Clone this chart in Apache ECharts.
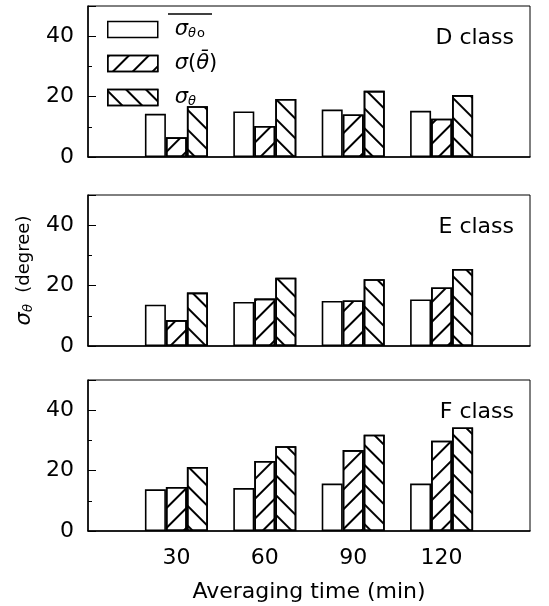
<!DOCTYPE html>
<html>
<head>
<meta charset="utf-8">
<script src="https://cdn.jsdelivr.net/npm/echarts@6/dist/echarts.min.js"></script>
<style>
  html, body { margin: 0; padding: 0; background: #fff; }
  #chart { width: 549px; height: 606px; }
</style>
</head>
<body>
<div id="chart"></div>
<script>
// Averaging times (min) on the x axis
const categories = [30, 60, 90, 120];
const xTickLabels = ['30', '60', '90', '120'];
const yTickLabels = [0, 20, 40];

// Stability class panels, top to bottom
const classes = ['D class', 'E class', 'F class'];

// Legend names of the three estimates
const seriesNames = ['σθo', 'σ(θ̄)', 'σθ'];

// D class
const dMean = [14.3, 15.1, 15.7, 15.3];
const dSdMean = [6.5, 10.3, 14.1, 12.7];
const dSigma = [16.8, 19.2, 21.9, 20.5];
// E class
const eMean = [13.7, 14.6, 14.9, 15.4];
const eSdMean = [8.6, 15.7, 15.1, 19.4];
const eSigma = [17.7, 22.6, 22.1, 25.5];
// F class
const fMean = [13.8, 14.2, 15.7, 15.7];
const fSdMean = [14.6, 23.2, 26.8, 29.9];
const fSigma = [21.2, 28.1, 31.9, 34.3];

const panelValues = [
  [dMean, dSdMean, dSigma],
  [eMean, eSdMean, eSigma],
  [fMean, fSdMean, fSigma]
];

const FONT = 'DejaVu Sans';
const panelTops = [6, 195, 380];
const panelHeight = 151;

const chart = echarts.init(document.getElementById('chart'), null, { renderer: 'canvas' });

// hatch fills: plain, "///" and "\\\"
const patterns = [
  null,
  { symbol: 'rect', symbolSize: 1, dashArrayX: [1, 0], dashArrayY: [2, 12], rotation: -Math.PI / 4, color: '#000' },
  { symbol: 'rect', symbolSize: 1, dashArrayX: [1, 0], dashArrayY: [2, 12], rotation: Math.PI / 4, color: '#000' }
];

const grids = [], xAxes = [], yAxes = [], series = [], titles = [];

panelValues.forEach((vals, p) => {
  grids.push({
    left: 88, right: 19, top: panelTops[p], height: panelHeight,
    show: true, borderColor: '#000', borderWidth: 1, backgroundColor: 'transparent'
  });
  const last = p === panelValues.length - 1;
  xAxes.push({
    type: 'value', gridIndex: p, min: 0, max: 150, interval: 30,
    axisLine: { show: true, onZero: false, lineStyle: { color: '#000', width: 1.5 } },
    axisTick: { show: false },
    splitLine: { show: false },
    axisLabel: {
      show: last, margin: 16, color: '#000', fontFamily: FONT, fontSize: 22,
      formatter: v => { const i = categories.indexOf(v); return i >= 0 ? xTickLabels[i] : ''; }
    },
    name: last ? 'Averaging time (min)' : '',
    nameLocation: 'middle', nameGap: 50,
    nameTextStyle: { color: '#000', fontFamily: FONT, fontSize: 22 }
  });
  // labelled axis with long ticks
  yAxes.push({
    type: 'value', gridIndex: p, min: 0, max: 50, interval: 20,
    axisLine: { show: true, onZero: false, lineStyle: { color: '#000', width: 1.5 } },
    axisTick: { show: true, inside: true, length: 8, lineStyle: { color: '#000', width: 1 } },
    splitLine: { show: false },
    axisLabel: {
      margin: 14, color: '#000', fontFamily: FONT, fontSize: 22,
      formatter: v => yTickLabels.indexOf(v) >= 0 ? String(v) : ''
    },
    name: p === 1 ? '{s|σ}{sub|θ}{t|  (degree)}' : '',
    nameLocation: 'middle', nameRotate: 90, nameGap: 52,
    nameTextStyle: {
      color: '#000', fontFamily: FONT, fontSize: 18,
      rich: {
        s: { fontFamily: FONT, fontSize: 21, fontStyle: 'italic', color: '#000' },
        sub: { fontFamily: FONT, fontSize: 13, fontStyle: 'italic', color: '#000', padding: [8, 0, 0, 0] },
        t: { fontFamily: FONT, fontSize: 18, color: '#000' }
      }
    }
  });
  // unlabelled axis carrying the short ticks every 10 degrees
  yAxes.push({
    type: 'value', gridIndex: p, min: 0, max: 50, interval: 10, position: 'left',
    axisLine: { show: false },
    axisTick: { show: true, inside: true, length: 4, lineStyle: { color: '#000', width: 1 } },
    splitLine: { show: false },
    axisLabel: { show: false }
  });
  vals.forEach((arr, s) => {
    const itemStyle = { color: '#fff', borderColor: '#000', borderWidth: 1.6 };
    if (patterns[s]) itemStyle.decal = patterns[s];
    series.push({
      type: 'bar', name: seriesNames[s],
      xAxisIndex: p, yAxisIndex: p * 2,
      barWidth: 21, barGap: '0%',
      itemStyle: itemStyle,
      emphasis: { disabled: true },
      data: categories.map((c, i) => [c, arr[i]])
    });
  });
  titles.push({
    text: classes[p], right: 30, top: panelTops[p] + 16,
    textStyle: { color: '#000', fontFamily: FONT, fontSize: 22, fontWeight: 'normal' }
  });
});

const legendRich = {
  g: { width: 12 },
  s: { fontFamily: FONT, fontSize: 21, fontStyle: 'italic', color: '#000' },
  sub: { fontFamily: FONT, fontSize: 13, fontStyle: 'italic', color: '#000', padding: [8, 0, 0, 0] },
  o: { fontFamily: FONT, fontSize: 13, color: '#000', padding: [8, 0, 0, 1] },
  p: { fontFamily: FONT, fontSize: 21, color: '#000' }
};

chart.setOption({
  animation: false,
  backgroundColor: '#fff',
  title: titles,
  grid: grids,
  xAxis: xAxes,
  yAxis: yAxes,
  series: series,
  legend: {
    orient: 'vertical', left: 102, top: 14,
    itemWidth: 50, itemHeight: 16, itemGap: 13,
    icon: 'rect',
    selectedMode: false,
    data: seriesNames,
    itemStyle: { borderColor: '#000', borderWidth: 1.5 },
    formatter: name => {
      if (name === seriesNames[0]) return '{g|}{s|σ}{sub|θ}{o|o}';
      if (name === seriesNames[1]) return '{g|}{s|σ}{p|(}{s|θ̄}{p|)}';
      return '{g|}{s|σ}{sub|θ}';
    },
    textStyle: { rich: legendRich }
  },
  graphic: [
    // overline over the first legend label
    { type: 'line', shape: { x1: 168, y1: 14, x2: 212, y2: 14 }, style: { stroke: '#000', lineWidth: 1.3 } }
  ]
});
</script>
</body>
</html>
